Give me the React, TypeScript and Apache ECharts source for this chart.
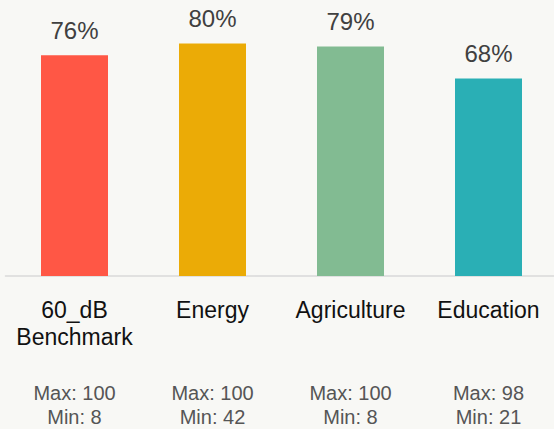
import React, { useEffect, useRef } from "react";
import * as echarts from "echarts";

const categories = ["60_dB\nBenchmark", "Energy", "Agriculture", "Education"];
const percents = [76, 80, 79, 68];
const maxValues = [100, 100, 100, 98];
const minValues = [8, 42, 8, 21];
const barColors = ["#FF5745", "#EBAB06", "#82BB92", "#2AAFB5"];

const FONT = "'Liberation Sans', Arial, Helvetica, sans-serif";

export default function App() {
  const ref = useRef<HTMLDivElement>(null);
  useEffect(() => {
    if (!ref.current) return;
    const chart = echarts.init(ref.current, undefined, { renderer: "svg" });
    chart.setOption({
      animation: false,
      backgroundColor: "#F8F8F5",
      grid: { left: 5.5, width: 552, top: 0, bottom: 153, containLabel: false },
      xAxis: [
        {
          type: "category",
          data: categories,
          position: "bottom",
          axisLine: { show: true, lineStyle: { color: "#D9D9D9", width: 1.5 } },
          axisTick: { show: false },
          axisLabel: {
            interval: 0,
            margin: 20,
            color: "#111111",
            fontSize: 23,
            lineHeight: 27,
            fontFamily: FONT,
          },
        },
        {
          type: "category",
          data: categories.map((c, i) => `Max: ${maxValues[i]}\nMin: ${minValues[i]}`),
          position: "bottom",
          offset: 105,
          axisLine: { show: false },
          axisTick: { show: false },
          axisLabel: {
            interval: 0,
            margin: 0,
            color: "#555555",
            fontSize: 20,
            lineHeight: 24,
            fontFamily: FONT,
          },
        },
      ],
      yAxis: {
        type: "value",
        min: 0,
        max: 95,
        show: false,
        splitLine: { show: false },
      },
      series: [
        {
          type: "bar",
          xAxisIndex: 0,
          barWidth: 67,
          data: percents.map((v, i) => ({ value: v, itemStyle: { color: barColors[i] } })),
          label: {
            show: true,
            position: "top",
            distance: 13,
            formatter: "{c}%",
            color: "#404040",
            fontSize: 24,
            lineHeight: 24,
            fontFamily: FONT,
          },
        },
      ],
    });
    return () => chart.dispose();
  }, []);
  return (
    <div
      ref={ref}
      style={{ position: "fixed", left: 0, top: 0, width: 560, height: 429 }}
    />
  );
}
